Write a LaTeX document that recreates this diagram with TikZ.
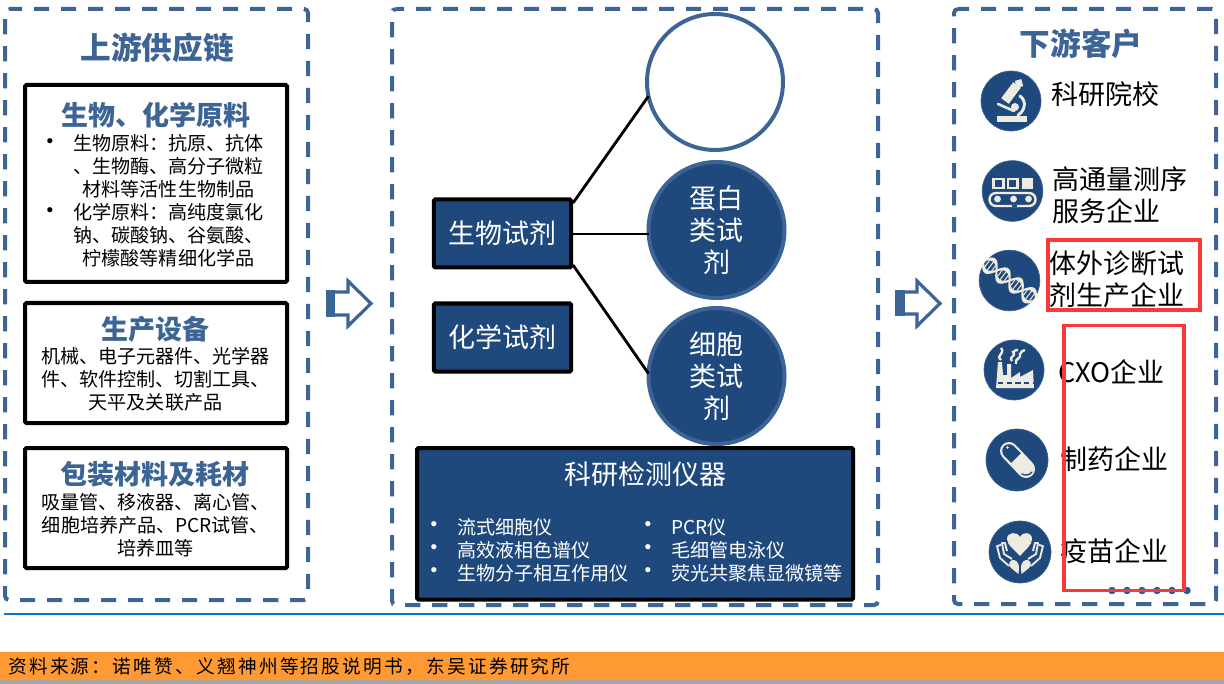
\documentclass[tikz,border=0pt]{standalone}
\usepackage{fontspec}
\setmainfont{Noto Sans CJK SC}
\newfontfamily\footfont[LetterSpace=12]{Noto Sans CJK SC}
\newfontfamily\bulfont{Liberation Sans}
\usetikzlibrary{calc}
\definecolor{dashblue}{HTML}{3C6494}
\definecolor{navy}{HTML}{1F497D}
\definecolor{cream}{HTML}{EEEBE0}
\definecolor{redmark}{HTML}{F83A3A}
\definecolor{ruleblue}{HTML}{0B72C4}
\definecolor{orangeband}{HTML}{FF9933}
\definecolor{dotblue}{HTML}{1F5C99}
\newcommand{\bodysize}{\fontsize{14.3}{17.25}\selectfont}
\newcommand{\headsize}{\fontsize{20.25}{24}\selectfont\bfseries}
\newcommand{\titlesize}{\fontsize{23}{27}\selectfont\bfseries}
\newcommand{\fwcolon}{\char"FF1A\relax}
\newcommand{\fwcomma}{\char"FF0C\relax}
\tikzset{
  x=0.75pt,y=-0.75pt,
  panel/.style={draw=dashblue,line width=3pt,rounded corners=3pt,dash pattern=on 11.4pt off 8.85pt},
  whitebox/.style={draw=black,line width=3pt,fill=white,rounded corners=1pt},
  navybox/.style={draw=black,line width=3pt,fill=navy,rounded corners=1pt},
  headtext/.style={text=dashblue,inner sep=0pt,font=\headsize,align=center},
  titletext/.style={text=dashblue,inner sep=0pt,font=\titlesize,align=center},
  bodytext/.style={text=black,inner sep=0pt,font=\bodysize,align=center},
  whiteleft/.style={text=white,inner sep=0pt,font=\bodysize,align=left,anchor=west},
  bulletblack/.style={text=black,inner sep=0pt,font=\bulfont\bodysize},
  bulletwhite/.style={text=white,inner sep=0pt,font=\bulfont\bodysize},
  bigwhite/.style={text=white,inner sep=0pt,font=\fontsize{20.25}{24}\selectfont,align=center},
  bigblack/.style={text=black,inner sep=0pt,font=\fontsize{20.25}{24}\selectfont,align=left,anchor=west},
  roundnode/.style={circle,draw=dashblue,line width=3pt,fill=navy,minimum size=102pt,inner sep=0pt,outer sep=0pt,text=white,align=center,font=\fontsize{20.25}{24}\selectfont},
  iconbg/.style={circle,fill=navy,draw=dashblue,line width=0.5pt,inner sep=0pt},
  link/.style={draw=black,line width=2.1pt},
  redbox/.style={draw=redmark,line width=2.4pt},
  blockarrow/.style={draw=dashblue,line width=2.4pt,fill=white,miter limit=10},
  ic/.style={draw=cream,line cap=round},
}
\begin{document}
\begin{tikzpicture}
\useasboundingbox (0,0) rectangle (1224,684);

% footer
\fill[orangeband] (0,652) rectangle (1224,680);
\fill[black!35] (0,680) rectangle (1224,684);
\draw[ruleblue,line width=1.3pt] (4,614) -- (1224,614);
\node[anchor=west,inner sep=0pt,text=black,font={\footfont\fontsize{14}{16}\selectfont}] (source) at (8,667) {资料来源\fwcolon 诺唯赞、义翘神州等招股说明书\fwcomma 东吴证券研究所};

% panels
\draw[panel,dash phase=1.5pt] (5,9) -- (308,9) -- (308,600) -- (5,600) -- cycle;
\draw[panel,dash phase=5.25pt] (392,9) -- (878,9) -- (878,605) -- (392,605) -- cycle;
\draw[panel,dash phase=3pt] (954,9) -- (1216,9) -- (1216,604) -- (954,604) -- cycle;

% left panel
\node[titletext] (uptitle) at (157,48) {上游供应链};
\draw[whitebox] (25,85) rectangle (287,282);
\node[headtext] (rawhead) at (156,115) {生物、化学原料};
\node[bodytext] (rawtext) at (168.5,200.5) {生物原料\fwcolon 抗原、抗体\\、生物酶、高分子微粒\\材料等活性生物制品\\化学原料\fwcolon 高纯度氯化\\钠、碳酸钠、谷氨酸、\\柠檬酸等精细化学品};
\node[bulletblack] (rawb1) at (50,143) {•};
\node[bulletblack] (rawb2) at (50,212) {•};
\draw[whitebox] (25,303) rectangle (287,423);
\node[headtext] (equiphead) at (155,329) {生产设备};
\node[bodytext] (equiptext) at (155.5,379.5) {机械、电子元器件、光学器\\件、软件控制、切割工具、\\天平及关联产品};
\draw[whitebox] (25,448) rectangle (287,568);
\node[headtext] (packhead) at (155,474) {包装材料及耗材};
\node[bodytext] (packtext) at (155.5,525) {吸量管、移液器、离心管、\\细胞培养产品、PCR试管、\\培养皿等};

% arrows
\draw[blockarrow] (329,292) -- (348,292) -- (348,281) -- (371,303.5) -- (348,326) -- (348,315) -- (329,315) -- cycle;
\fill[dashblue] (326,290.5) rectangle (335,316.5);
\draw[blockarrow] (898,292) -- (917,292) -- (917,281) -- (940,303.5) -- (917,326) -- (917,314) -- (898,314) -- cycle;
\fill[dashblue] (895,290) rectangle (905,315.5);

% middle panel
\node[draw=dashblue,line width=3pt,fill=white,circle,minimum size=102pt,inner sep=0pt,outer sep=0pt] (wc) at (715,82) {};
\node[roundnode] (prot) at (716.5,230) {蛋白\\类试\\剂};
\node[roundnode] (cell) at (716.5,376) {细胞\\类试\\剂};
\node[navybox,minimum width=103pt,minimum height=51pt,inner sep=0pt,outer sep=0pt,text=white,font=\fontsize{20.25}{24}\selectfont] (bio) at (502.5,233.5) {生物试剂};
\node[navybox,minimum width=103pt,minimum height=51pt,inner sep=0pt,outer sep=0pt,text=white,font=\fontsize{20.25}{24}\selectfont] (chem) at (502.5,337.5) {化学试剂};
\coordinate (bioup) at (573,203);
\coordinate (biomid) at (573,234);
\coordinate (biolow) at (573,265);
\draw[link] (bioup) -- (wc.192);
\draw[link] (biomid) -- (biomid -| prot.west);
\draw[link] (biolow) -- (cell.178);

\draw[navybox] (417,448) rectangle (853,599.5);
\node[bigwhite] (insthead) at (645.5,474) {科研检测仪器};
\foreach \nm/\yy in {a/526,b/549,c/572}{
  \node[bulletwhite] (bl\nm) at (434,\yy) {•};
  \node[bulletwhite] (br\nm) at (648,\yy) {•};
}
\node[whiteleft] (la) at (457,527) {流式细胞仪};
\node[whiteleft] (lb) at (457,550) {高效液相色谱仪};
\node[whiteleft] (lc) at (457,573) {生物分子相互作用仪};
\node[whiteleft] (ra) at (671,527) {PCR仪};
\node[whiteleft] (rb) at (671,550) {毛细管电泳仪};
\node[whiteleft] (rc) at (671,573) {荧光共聚焦显微镜等};

% right panel
\node[titletext] (downtitle) at (1081,44) {下游客户};
\node[iconbg,minimum size=45pt] (i1) at (1011,101) {};
\node[iconbg,minimum size=45.5pt] (i2) at (1012.5,191) {};
\node[iconbg,minimum size=45.5pt] (i3) at (1009.5,280.5) {};
\node[iconbg,minimum size=45pt] (i4) at (1014,370) {};
\node[iconbg,minimum size=46.5pt] (i5) at (1017,460) {};
\node[iconbg,minimum size=46.5pt] (i6) at (1020,552) {};

% microscope
\begin{scope}[shift={(1011,101)}]
  \fill[cream] (-14,15) rectangle (16,21);
  \draw[ic,line width=7pt,line cap=butt] (6,-16) -- (-6,0);
  \draw[ic,line width=5pt,line cap=butt] (7,-21) -- (9,-14);
  \draw[ic,line width=2pt] (-13,3) -- (3,10);
  \draw[ic,line width=2.2pt] (9,-5) .. controls (16,0) and (14,10) .. (7,14);
  \fill[cream] (4,6) circle (4);
\end{scope}
% conveyor
\begin{scope}[shift={(1012.5,191)}]
  \draw[cream,line width=1.8pt] (-19,-12) rectangle (-9,-3);
  \draw[cream,line width=1.8pt] (-4.5,-12) rectangle (5,-3);
  \fill[cream] (9,-13) rectangle (20,-2);
  \draw[cream,line width=1.8pt,rounded corners=4.8pt] (-23,2) rectangle (23,15);
  \fill[cream] (-15,8) circle (3.4) (1,8) circle (3.4) (16,8) circle (3.4);
  \draw[navy,line width=1.2pt] (-1,15) -- (4,15);
\end{scope}
% dna
\begin{scope}[shift={(1009.5,280.5)},rotate=-37]
  \fill[cream] plot[domain=-31:31,samples=40,smooth] (\x,{8.5*sin(\x*11)}) -- plot[domain=31:-31,samples=40,smooth] (\x,{5*sin(\x*11)}) -- cycle;
  \fill[cream] plot[domain=-31:31,samples=40,smooth] (\x,{-8.5*sin(\x*11)}) -- plot[domain=31:-31,samples=40,smooth] (\x,{-5*sin(\x*11)}) -- cycle;
  \foreach \t in {-28,-24,...,28}{
    \draw[cream,line width=0.8pt] (\t,{5*sin(\t*11)}) -- (\t,{-5*sin(\t*11)});
  }
  \draw[cream,line width=1.5pt,line cap=round] plot[domain=-31:31,samples=40,smooth] (\x,{8*sin(\x*11)});
  \draw[cream,line width=1.5pt,line cap=round] plot[domain=-31:31,samples=40,smooth] (\x,{-8*sin(\x*11)});
\end{scope}
% factory
\begin{scope}[shift={(1014,370)}]
  \fill[cream] (-18,18) -- (-16,-8) -- (-12,-8) -- (-11,5) -- (-7,5) -- (-7,-6) -- (-3,-6) -- (-3,8) -- (6,2) -- (6,7) -- (19,0) -- (20,18) -- cycle;
  \draw[navy,line width=1.2pt,dash pattern=on 4pt off 2.5pt] (-16,13) -- (19,13);
  \draw[cream,line width=1.8pt,fill=none] (-13,-10) .. controls (-19,-15) and (-8,-16) .. (-13,-22);
  \draw[cream,line width=1.8pt,fill=none] (-2,-9) .. controls (-6,-14) and (3,-13) .. (-1,-18) .. controls (1,-20) and (3,-20) .. (4,-20);
  \draw[cream,line width=1.8pt,fill=none] (2,-6) .. controls (0,-12) and (8,-11) .. (6,-16) .. controls (7,-19) and (9,-19) .. (11,-20);
\end{scope}
% pill
\begin{scope}[shift={(1017,460)}]
  \draw[cream,line width=13.5pt,line cap=round] (-8,-9) -- (9,9);
  \fill[navy] (-8,-9) circle (6.8);
  \draw[navy,line width=10.2pt,line cap=butt] (-8,-9) -- (-1,-2);
  \fill[cream] (-9.5,-12.5) circle (1.4);
  \draw[navy,line width=1pt,line cap=round] (5,14) .. controls (8,16) and (13,15) .. (15,12);
\end{scope}
% hands and heart
\begin{scope}[shift={(1020,552)}]
  \fill[cream] (0,4) .. controls (-6,-3) and (-13,-7) .. (-13,-13) .. controls (-13,-20) and (-3,-21) .. (0,-15) .. controls (3,-21) and (12,-20) .. (12,-13) .. controls (12,-7) and (6,-3) .. (0,4) -- cycle;
  \foreach \sx in {1,-1}{
    \begin{scope}[xscale=\sx]
      \fill[cream] (-1.5,22) -- (-9,16) .. controls (-13,13) and (-10,7) .. (-6,8) .. controls (-2,9) and (-1,13) .. (-1,16) -- cycle;
      \draw[cream,line width=1.4pt,line join=round] (-8,7) -- (-16,2) -- (-18,-9) -- (-15,-9) -- (-13,-1);
      \draw[cream,line width=1.4pt,line join=round] (-11,14) -- (-20,6) -- (-23,-6) -- (-19,-7);
    \end{scope}
  }
\end{scope}

\node[bigblack] (t1) at (1051,94) {科研院校};
\node[bigblack] (t2) at (1052,195) {高通量测序\\服务企业};
\node[bigblack] (t3) at (1049,279.5) {体外诊断试\\剂生产企业};
\node[bigblack] (t4) at (1058,372) {CXO企业};
\node[bigblack] (t5) at (1060,459) {制药企业};
\node[bigblack] (t6) at (1060,551) {疫苗企业};

\foreach \xx [count=\i] in {1112,1127,1142,1157,1172,1187}{
  \node[circle,fill=dotblue,minimum size=5.6pt,inner sep=0pt] (dot\i) at (\xx,590.5) {};
}
\draw[redbox] (1048,240) rectangle (1200,310);
\draw[redbox] (1064,325.5) rectangle (1184,590.5);
\end{tikzpicture}
\end{document}
